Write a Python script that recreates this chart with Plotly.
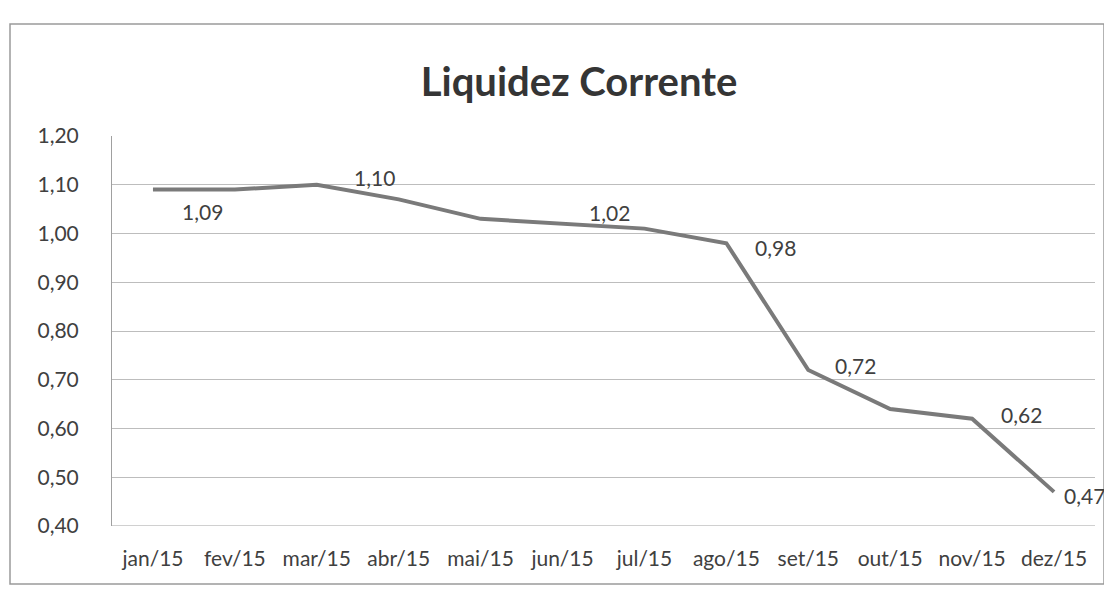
import plotly.graph_objects as go

# ---- data ----
months = ["jan/15", "fev/15", "mar/15", "abr/15", "mai/15", "jun/15",
          "jul/15", "ago/15", "set/15", "out/15", "nov/15", "dez/15"]
liquidez = [1.09, 1.09, 1.10, 1.07, 1.03, 1.02, 1.01, 0.98, 0.72, 0.64, 0.62, 0.47]
labeled_months = ["jan/15", "mar/15", "jun/15", "ago/15", "set/15", "nov/15", "dez/15"]
y_ticks = [0.40, 0.50, 0.60, 0.70, 0.80, 0.90, 1.00, 1.10, 1.20]
title_text = "Liquidez Corrente"

# ---- layout constants (page pixels) ----
PAGE_W, PAGE_H = 1112, 589
OFF = 8  # default body margin of the html page
W, H = PAGE_W - OFF, PAGE_H - OFF
L, R, T, B = 112, 1095, 136, 526  # plot area in page pixels
FONT = "Lato, 'Open Sans', sans-serif"
TXT = "#404040"

# label offsets (style only): (xshift, yshift) in px
label_offsets = {
    "jan/15": (27, -22),
    "mar/15": (35, 7),
    "jun/15": (24, 11),
    "ago/15": (27, -4),
    "set/15": (25, 5),
    "nov/15": (27, 4),
    "dez/15": (8, -4),
}

fig = go.Figure()
fig.add_trace(go.Scatter(
    x=months, y=liquidez, mode="lines",
    line=dict(color="#7a7a7a", width=4),
    hoverinfo="skip", showlegend=False,
))

for m, v in zip(months, liquidez):
    if m in labeled_months:
        dx, dy = label_offsets[m]
        fig.add_annotation(
            x=m, y=v, xref="x", yref="y",
            text=f"{v:.2f}".replace(".", ","),
            showarrow=False, xanchor="left", yanchor="middle",
            xshift=dx, yshift=dy,
            font=dict(family=FONT, size=21, color=TXT),
        )

def px_x(p):
    return (p - L) / (R - L)

def px_y(p):
    return (B - p) / (B - T)

# outer chart border
fig.add_shape(type="rect", xref="paper", yref="paper",
              x0=px_x(10), x1=px_x(1104), y0=px_y(584), y1=px_y(24),
              line=dict(color="#9a9a9a", width=1.5), layer="below")

fig.update_layout(
    width=W, height=H,
    margin=dict(l=L - OFF, r=PAGE_W - R, t=T - OFF, b=PAGE_H - B),
    paper_bgcolor="white", plot_bgcolor="white",
    separators=",.",
    title=dict(text=f"<b>{title_text}</b>", xref="container", yref="container",
               x=(579 - OFF) / W, y=1 - (82 - OFF) / H, xanchor="center", yanchor="middle",
               font=dict(family=FONT, size=40, color="#353535")),
    xaxis=dict(
        type="category", categoryorder="array", categoryarray=months,
        range=[-0.5, len(months) - 0.5],
        showgrid=False, showline=False, ticks="", zeroline=False,
        tickfont=dict(family=FONT, size=21, color=TXT),
        ticklabelstandoff=18,
    ),
    yaxis=dict(
        range=[0.40, 1.20], tickvals=y_ticks, tickformat=".2f",
        showgrid=True, gridcolor="#bdbdbd", gridwidth=1,
        showline=True, linecolor="#a0a0a0", linewidth=1,
        ticks="", zeroline=False,
        tickfont=dict(family=FONT, size=21, color=TXT),
        ticklabelstandoff=28,
    ),
)

# bottom axis line at the 0,40 level
fig.add_shape(type="line", xref="paper", yref="y",
              x0=0, x1=1, y0=0.40, y1=0.40,
              line=dict(color="#a0a0a0", width=1))

fig.write_html("out.html")
